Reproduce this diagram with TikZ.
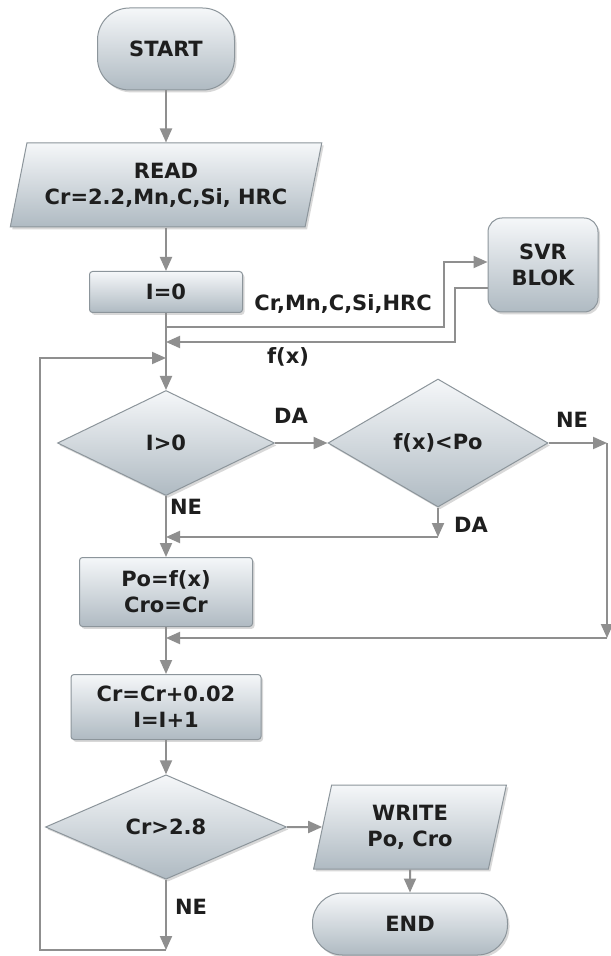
\documentclass[tikz,border=0pt]{standalone}
\usepackage{fontspec}
\setmainfont{DejaVu Sans}
\usetikzlibrary{arrows.meta, shapes.geometric, shadows}
\definecolor{edgegrey}{HTML}{8F8F8F}
\definecolor{bordergrey}{HTML}{8C959B}
\definecolor{shadetop}{HTML}{F5F7F9}
\definecolor{shadebot}{HTML}{AFBAC2}
\definecolor{inkdark}{HTML}{1E1E1E}
\tikzset{
  base/.style={draw=bordergrey, line width=0.5pt, top color=shadetop, bottom color=shadebot,
    drop shadow={shadow xshift=1pt, shadow yshift=-1.2pt, opacity=0.3},
    align=center, font=\fontsize{10.5}{13}\selectfont\bfseries, text=inkdark, inner sep=1pt},
  terminal/.style={base, rectangle, rounded corners=16pt},
  procbox/.style={base, rectangle, rounded corners=1.5pt},
  iobox/.style={base, trapezium, trapezium stretches=true,
    trapezium left angle=73, trapezium right angle=107},
  decision/.style={base, diamond},
  arrow/.style={-{Triangle[length=7pt, width=6pt]}, line width=1pt, edgegrey},
  flowlabel/.style={font=\fontsize{10.5}{13}\selectfont\bfseries, text=inkdark, inner sep=0pt},
}

\begin{document}
\begin{tikzpicture}[x=0.5pt, y=-0.5pt]
\fill[white] (0,0) rectangle (610,956);
\useasboundingbox (0,0) rectangle (610,956);

% blocks
\node[terminal, minimum width=68.5pt, minimum height=41pt] (start) at (166,49) {START};
\node[iobox, minimum width=156pt, minimum height=42pt] (read) at (166,185) {READ\\Cr=2.2,Mn,C,Si, HRC};
\node[procbox, minimum width=76.5pt, minimum height=20.5pt] (izero) at (166,292) {I=0};
\node[terminal, rounded corners=7pt, minimum width=55pt, minimum height=47pt] (svr) at (543,265) {SVR\\BLOK};
\node[decision, minimum width=108.5pt, minimum height=52.5pt] (igt) at (166,443) {I>0};
\node[decision, minimum width=110pt, minimum height=64pt] (fxpo) at (438,443) {f(x)<Po};
\node[procbox, minimum width=86.5pt, minimum height=34.5pt] (po) at (166,592) {Po=f(x)\\Cro=Cr};
\node[procbox, minimum width=95pt, minimum height=32.5pt] (crinc) at (166,707) {Cr=Cr+0.02\\I=I+1};
\node[decision, minimum width=120.5pt, minimum height=49.5pt] (crgt) at (166,827) {Cr>2.8};
\node[iobox, trapezium left angle=78, trapezium right angle=102,
  minimum width=96.5pt, minimum height=42pt] (write) at (410,827) {WRITE\\Po, Cro};
\node[terminal, rounded corners=15pt, minimum width=97.5pt, minimum height=31pt] (endn) at (410,924) {END};

% labels
\node[flowlabel] (lblcr) at (343,304) {Cr,Mn,C,Si,HRC};
\node[flowlabel] (lblfx) at (288,357) {f(x)};
\node[flowlabel] (lblda) at (291,416) {DA};
\node[flowlabel] (lblne) at (186,507) {NE};
\node[flowlabel] (lblnefx) at (572,420) {NE};
\node[flowlabel] (lbldafx) at (471,525) {DA};
\node[flowlabel] (lblnecr) at (191,907) {NE};

% junctions and corners
\coordinate (jcr) at (166,327);
\coordinate (jfx) at (166,342);
\coordinate (jloop) at (166,358);
\coordinate (crturn) at (444,327);
\coordinate (fxturn) at (455,342);
\coordinate (neright) at (607,443);
\coordinate (necorner) at (607,638);
\coordinate (jpo) at (166,638);
\coordinate (dadown) at (438,537);
\coordinate (jda) at (166,537);
\coordinate (loopbot) at (166,950);
\coordinate (loopleft) at (40,358);

% flow
\draw[arrow] (start) -- (read);
\draw[arrow] (read) -- (izero);
\draw[arrow] (izero) -- (igt);
\draw[arrow] (jcr) -- (crturn) |- ([yshift=1.5pt]svr.west);
\draw[arrow] ([yshift=-11.5pt]svr.west) -| (fxturn) -- (jfx);
\draw[arrow] (igt) -- (fxpo);
\draw[arrow] (fxpo) -- (neright);
\draw[arrow] (neright) -- (necorner);
\draw[arrow] (necorner) -- (jpo);
\draw[arrow] (fxpo) -- (dadown);
\draw[arrow] (dadown) -- (jda);
\draw[arrow] (igt) -- (po);
\draw[arrow] (po) -- (crinc);
\draw[arrow] (crinc) -- (crgt);
\draw[arrow] (crgt) -- (write);
\draw[arrow] (write) -- (endn);
\draw[arrow] (crgt) -- (loopbot);
\draw[arrow] (loopbot) -| (loopleft) -- (jloop);
\end{tikzpicture}
\end{document}
